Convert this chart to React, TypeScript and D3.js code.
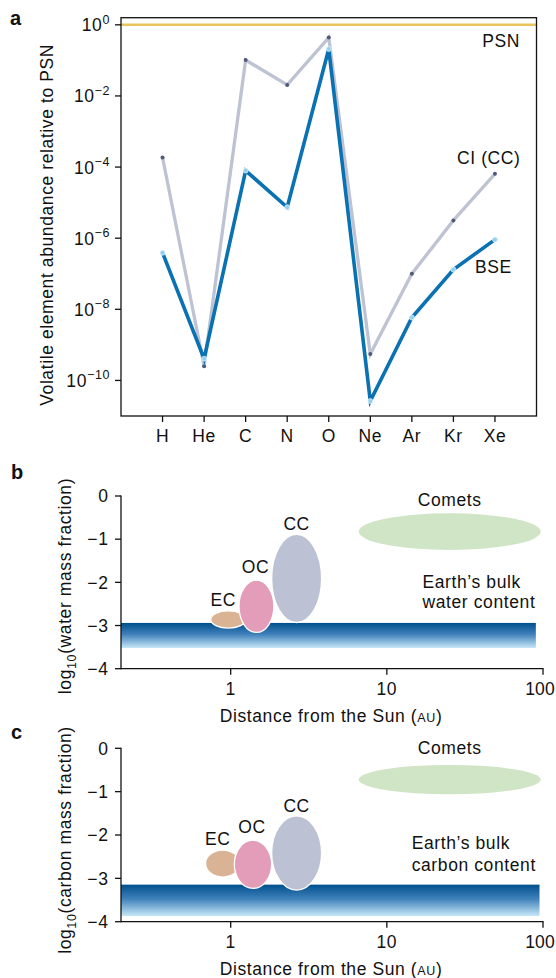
import React from 'react';
import * as d3 from 'd3';

// ---------- Panel a: volatile element abundance relative to PSN (log10) ----------
const elements = ['H', 'He', 'C', 'N', 'O', 'Ne', 'Ar', 'Kr', 'Xe'];
const ciLog = [-3.73, -9.6, -0.99, -1.69, -0.36, -9.26, -7.0, -5.5, -4.19];
const bseLog = [-6.41, -9.39, -4.1, -5.13, -0.68, -10.58, -8.23, -6.88, -6.04];
const psnLog = 0;
const aTickExps = [0, -2, -4, -6, -8, -10];

// ---------- Panels b and c ----------
const distTicks = [1, 10, 100];
const fracTicks = [0, -1, -2, -3, -4];
const bodyNames = ['EC', 'OC', 'CC', 'Comets'];
// water (panel b): extent in AU and in log10 mass fraction
const waterAuMin = [0.745, 1.13, 1.83, 6.6];
const waterAuMax = [1.25, 1.89, 3.82, 96.7];
const waterLogMin = [-3.06, -3.16, -2.93, -1.25];
const waterLogMax = [-2.66, -1.95, -0.89, -0.4];
// carbon (panel c)
const carbonAuMin = [0.69, 1.055, 1.83, 6.6];
const carbonAuMax = [1.147, 1.83, 3.82, 96.7];
const carbonLogMin = [-2.97, -3.23, -3.27, -1.06];
const carbonLogMax = [-2.35, -2.12, -1.56, -0.385];
// Earth's bulk content bands [low, high] in log10, and far extent in AU
const earthWater = [-3.52, -2.94];
const earthCarbon = [-3.87, -3.145];
const earthWaterAuMax = 90;
const earthCarbonAuMax = 95;

const FONT = 'Liberation Sans, Arial, Helvetica, sans-serif';
const FS = 17.5;
const LS = 0.6;
const bodyColors = ['#D9B394', '#E39DB8', '#BCC1D3', '#CFE5C6'];
const labelDx = [-5, -1, 0, 0];
const labelDy = [[-5, -7, -4, -7], [-5, -7, -4, -11]];

const MINUS = '\u2212';
const fmtNeg = (v: number) => (v < 0 ? MINUS + Math.abs(v) : String(v));

function PanelA() {
  const x = d3.scalePoint<string>().domain(elements).range([121, 536.5]).padding(1);
  const y = d3.scaleLinear().domain([-11, 0.2]).range([416, 17.7]);
  const line = d3
    .line<number>()
    .x((_, i) => x(elements[i]) as number)
    .y((d) => y(d));
  const left = 121;
  const right = 536.5;
  const top = 17.7;
  const bottom = 416;
  return (
    <g>
      <text x={10} y={25} fontSize={20} fontWeight="bold">a</text>
      {/* PSN line */}
      <line x1={left} x2={right} y1={y(psnLog)} y2={y(psnLog)} stroke="#EAC45E" strokeWidth={2.6} />
      {/* frame */}
      <rect x={left} y={top} width={right - left} height={bottom - top} fill="none" stroke="#111" strokeWidth={1.3} />
      {/* y ticks */}
      {aTickExps.map((e) => (
        <g key={e}>
          <line x1={left - 6} x2={left} y1={y(e)} y2={y(e)} stroke="#111" strokeWidth={1.3} />
          <text x={110} y={y(e) + 6.5} textAnchor="end">
            10
            <tspan fontSize={12.5} dy={-7.5}>{fmtNeg(e)}</tspan>
          </text>
        </g>
      ))}
      {/* x ticks */}
      {elements.map((el) => (
        <g key={el}>
          <line x1={x(el)} x2={x(el)} y1={bottom} y2={bottom + 6} stroke="#111" strokeWidth={1.3} />
          <text x={x(el)} y={442} textAnchor="middle">{el}</text>
        </g>
      ))}
      {/* CI line */}
      <path d={line(ciLog) as string} fill="none" stroke="#BEC3D3" strokeWidth={3.3} />
      {ciLog.map((v, i) => (
        <circle key={'ci' + i} cx={x(elements[i])} cy={y(v)} r={2} fill="#4F5A78" />
      ))}
      {/* BSE line */}
      <path d={line(bseLog) as string} fill="none" stroke="#0A72B2" strokeWidth={3.6} />
      {bseLog.map((v, i) => (
        <circle key={'bse' + i} cx={x(elements[i])} cy={y(v)} r={2.5} fill="#93D0EF" stroke="#E6F5FC" strokeWidth={0.7} />
      ))}
      <text x={520} y={47} textAnchor="end">PSN</text>
      <text x={520.5} y={164} textAnchor="end">CI (CC)</text>
      <text x={475} y={272.5}>BSE</text>
      <text transform={`translate(53,${(top + bottom) / 2 + 8}) rotate(-90)`} textAnchor="middle">
        Volatile element abundance relative to PSN
      </text>
    </g>
  );
}

function PanelBC(props: {
  letter: string;
  letterY: number;
  y0: number;
  y1: number;
  auMin: number[];
  auMax: number[];
  logMin: number[];
  logMax: number[];
  band: number[];
  bandAuMax: number;
  gradId: string;
  quantity: string;
  idx: number;
}) {
  const { y0, y1 } = props;
  const x = d3.scaleLog().domain([0.1984, 100]).range([121, 543]);
  const y = d3.scaleLinear().domain([-4, 0]).range([y1, y0]);
  const left = 121;
  const last = distTicks[distTicks.length - 1];
  return (
    <g>
      <text x={11} y={props.letterY} fontSize={20} fontWeight="bold">{props.letter}</text>
      {/* Earth band */}
      <rect
        x={x(0.1984)}
        y={y(props.band[1])}
        width={x(props.bandAuMax) - x(0.1984)}
        height={y(props.band[0]) - y(props.band[1])}
        fill={`url(#${props.gradId})`}
      />
      {/* bodies */}
      {bodyNames.map((n, i) => {
        const xa = x(props.auMin[i]);
        const xb = x(props.auMax[i]);
        const ya = y(props.logMax[i]);
        const yb = y(props.logMin[i]);
        return (
          <g key={n}>
            <ellipse
              cx={(xa + xb) / 2}
              cy={(ya + yb) / 2}
              rx={(xb - xa) / 2}
              ry={(yb - ya) / 2}
              fill={bodyColors[i]}
              stroke={i === 3 ? 'none' : '#fff'}
              strokeWidth={1.3}
            />
            <text x={(xa + xb) / 2 + labelDx[i]} y={ya + labelDy[props.idx][i]} textAnchor="middle">{n}</text>
          </g>
        );
      })}
      {/* axes */}
      <line x1={left} x2={left} y1={y(0) - 0.6} y2={y(-4) + 0.6} stroke="#111" strokeWidth={1.3} />
      <line x1={left} x2={543.6} y1={y(-4)} y2={y(-4)} stroke="#111" strokeWidth={1.3} />
      {fracTicks.map((t) => (
        <g key={t}>
          <line x1={left - 6} x2={left} y1={y(t)} y2={y(t)} stroke="#111" strokeWidth={1.3} />
          <text x={108.5} y={y(t) + 6.3} textAnchor="end">{fmtNeg(t)}</text>
        </g>
      ))}
      {distTicks.map((t) => (
        <g key={t}>
          <line x1={x(t)} x2={x(t)} y1={y(-4)} y2={y(-4) + 6} stroke="#111" strokeWidth={1.3} />
          {t === last ? (
            <text x={555} y={y(-4) + 26} textAnchor="end" letterSpacing={0.2}>{t}</text>
          ) : (
            <text x={x(t)} y={y(-4) + 26} textAnchor="middle">{t}</text>
          )}
        </g>
      ))}
      <text x={331} y={y(-4) + 53.5} textAnchor="middle">
        Distance from the Sun (<tspan fontSize={12.5}>AU</tspan>)
      </text>
      <text transform={`translate(71,${props.idx === 0 ? 586 : 840}) rotate(-90)`} textAnchor="middle">
        log<tspan fontSize={12.5} dy={5}>10</tspan>
        <tspan dy={-5}>({props.quantity} mass fraction)</tspan>
      </text>
      <text x={props.idx === 0 ? 422.5 : 411.7} y={y(props.idx === 0 ? -2.12 : -2.32)}>Earth’s bulk</text>
      <text x={props.idx === 0 ? 422.5 : 411.7} y={y(props.idx === 0 ? -2.6 : -2.82)}>{props.quantity} content</text>
    </g>
  );
}

export default function App() {
  return (
    <svg
      width={556}
      height={978}
      viewBox="0 0 556 978"
      style={{ position: 'absolute', left: 0, top: 0, background: '#fff' }}
      fontFamily={FONT}
      fontSize={FS}
      letterSpacing={LS}
      fill="#111"
    >
      <defs>
        <linearGradient id="gradB" x1="0" y1="0" x2="0" y2="1">
          <stop offset="0" stopColor="#00508E" />
          <stop offset="0.45" stopColor="#3F80BA" />
          <stop offset="1" stopColor="#C6E8F8" />
        </linearGradient>
        <linearGradient id="gradC" x1="0" y1="0" x2="0" y2="1">
          <stop offset="0" stopColor="#00508E" />
          <stop offset="0.45" stopColor="#3F80BA" />
          <stop offset="1" stopColor="#C6E8F8" />
        </linearGradient>
      </defs>
      <rect x={0} y={0} width={556} height={978} fill="#fff" />
      <PanelA />
      <PanelBC
        letter="b"
        letterY={479}
        y0={496}
        y1={668.7}
        auMin={waterAuMin}
        auMax={waterAuMax}
        logMin={waterLogMin}
        logMax={waterLogMax}
        band={earthWater}
        bandAuMax={earthWaterAuMax}
        gradId="gradB"
        quantity="water"
        idx={0}
      />
      <PanelBC
        letter="c"
        letterY={739}
        y0={748.3}
        y1={921.7}
        auMin={carbonAuMin}
        auMax={carbonAuMax}
        logMin={carbonLogMin}
        logMax={carbonLogMax}
        band={earthCarbon}
        bandAuMax={earthCarbonAuMax}
        gradId="gradC"
        quantity="carbon"
        idx={1}
      />
    </svg>
  );
}
